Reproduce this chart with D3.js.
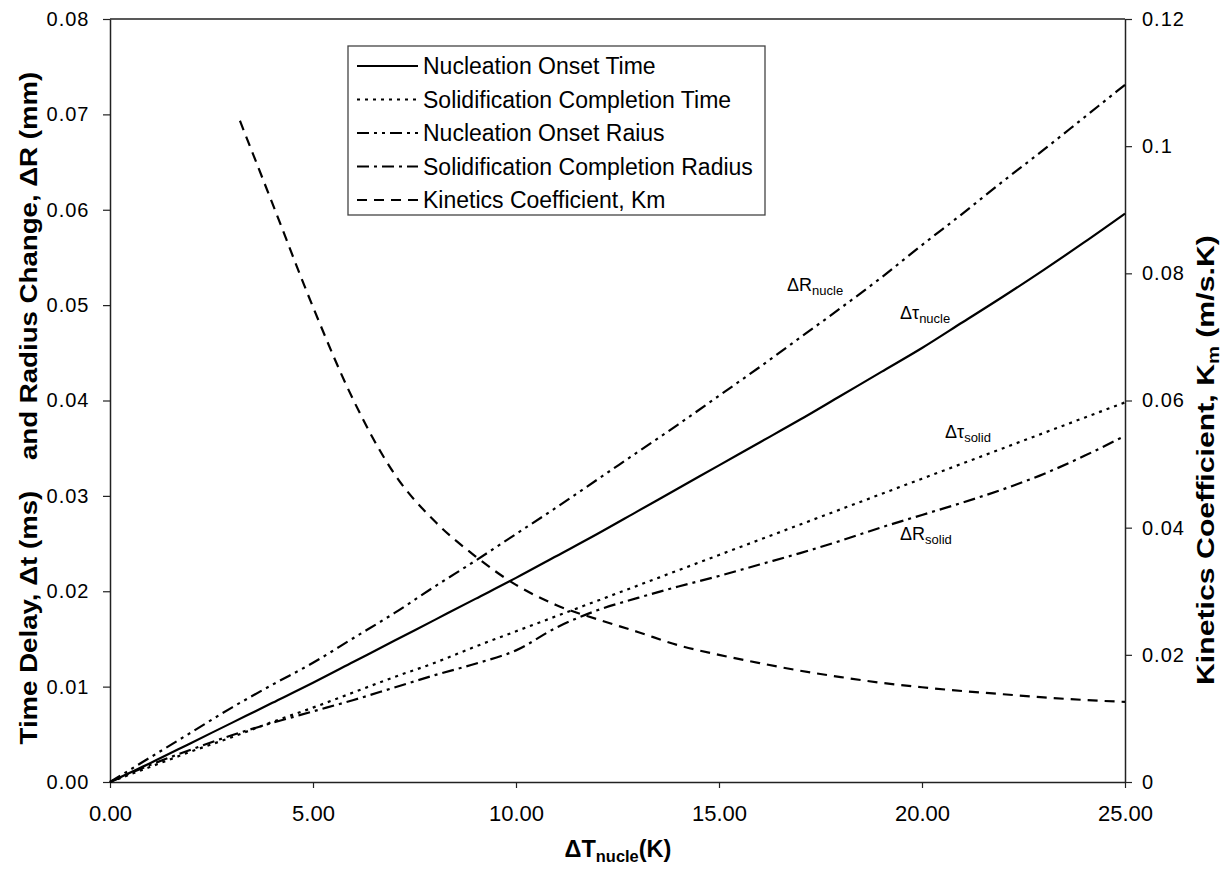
<!DOCTYPE html>
<html><head><meta charset="utf-8">
<script src="https://cdn.jsdelivr.net/npm/d3@7"></script>
<style>
html,body{margin:0;padding:0;background:#fff;}
text{font-family:"Liberation Sans",Arial,Helvetica,sans-serif;fill:#000;}
</style></head>
<body><svg id="chart" width="1223" height="873"></svg>
<script>
// ---- data ----
const dT = [0,1,2,3,4,5,6,7,8,9,10,11,12,13,14,15,16,17,18,19,20,21,22,23,24,25];
const nucleOnsetTime = [0,0.0020,0.0041,0.0062,0.0083,0.0104,0.0126,0.0148,0.0170,0.0192,0.0214,0.0237,0.0260,0.0284,0.0308,0.0332,0.0356,0.0380,0.0405,0.0430,0.0455,0.0482,0.0509,0.0537,0.0566,0.0596];
const solidCompletionTime = [0,0.0016,0.0032,0.0047,0.0063,0.0078,0.0094,0.0110,0.0125,0.0142,0.0158,0.0174,0.0190,0.0206,0.0222,0.0238,0.0254,0.0270,0.0286,0.0302,0.0318,0.0334,0.0350,0.0366,0.0382,0.0398];
const nucleOnsetRadius = [0,0.0026,0.0052,0.0078,0.0102,0.0125,0.0151,0.0177,0.0205,0.0232,0.0260,0.0288,0.0317,0.0346,0.0375,0.0405,0.0435,0.0466,0.0497,0.0529,0.0563,0.0596,0.0630,0.0663,0.0697,0.0731];
const solidCompletionRadius = [0,0.0018,0.0034,0.0049,0.0062,0.0074,0.0086,0.0099,0.0112,0.0124,0.0138,0.0162,0.0180,0.0193,0.0205,0.0216,0.0228,0.0240,0.0253,0.0267,0.0280,0.0293,0.0307,0.0323,0.0342,0.0363];
const kmT = [3.2,4,5,6,7,8,9,10,11,12,13,14,15,16,17,18,19,20,21,22,23,24,25];
const kmValues = [0.104,0.091,0.0747,0.060,0.0485,0.041,0.0355,0.031,0.0278,0.0256,0.0236,0.0215,0.0200,0.0187,0.0175,0.0165,0.0156,0.0149,0.0143,0.0138,0.0133,0.0129,0.0126];
const xTicks = [0,5,10,15,20,25];
const yLeftTicks = [0,0.01,0.02,0.03,0.04,0.05,0.06,0.07,0.08];
const yRightTicks = [0,0.02,0.04,0.06,0.08,0.1,0.12];
const legendLabels = ["Nucleation Onset Time","Solidification Completion Time","Nucleation Onset Raius","Solidification Completion Radius","Kinetics Coefficient, Km"];

// ---- layout ----
const L = 110, R = 1125, T = 19, B = 782;
const svg = d3.select("#chart");
svg.append("rect").attr("width",1223).attr("height",873).attr("fill","#fff");

const x = d3.scaleLinear().domain([0,25]).range([L,R]);
const yL = d3.scaleLinear().domain([0,0.08]).range([B,T]);
const yR = d3.scaleLinear().domain([0,0.12]).range([B,T]);

const axisColor = "#222";
svg.append("line").attr("x1",L).attr("x2",R).attr("y1",T).attr("y2",T).attr("stroke",axisColor).attr("stroke-width",1.5);

const gx = svg.append("g").attr("transform",`translate(0,${B})`)
  .call(d3.axisBottom(x).tickValues(xTicks).tickFormat(d3.format(".2f")).tickSize(6).tickSizeOuter(0));
const gyl = svg.append("g").attr("transform",`translate(${L},0)`)
  .call(d3.axisLeft(yL).tickValues(yLeftTicks).tickFormat(d3.format(".2f")).tickSize(7).tickSizeOuter(0));
const gyr = svg.append("g").attr("transform",`translate(${R},0)`)
  .call(d3.axisRight(yR).tickValues(yRightTicks).tickFormat(d=> d===0?"0":d3.format("~g")(d)).tickSize(7).tickSizeOuter(0));
[gx,gyl,gyr].forEach(g=>{
  g.select(".domain").attr("stroke",axisColor).attr("stroke-width",1.5);
  g.selectAll(".tick line").attr("stroke",axisColor).attr("stroke-width",1.2);
  g.selectAll(".tick text").attr("font-size",20).attr("font-family","Liberation Sans, Arial, sans-serif").attr("fill","#000");
});
gx.selectAll(".tick text").attr("font-size",22).attr("dy","1.35em");
gyl.selectAll(".tick text").attr("x",-42).attr("text-anchor","middle").attr("letter-spacing","1px");
gyr.selectAll(".tick text").attr("x",17).attr("letter-spacing","1px");

// ---- series ----
const styles = [
  {vals:nucleOnsetTime, dash:null},
  {vals:solidCompletionTime, dash:"3,5"},
  {vals:nucleOnsetRadius, dash:"12,5,3,5,3,5"},
  {vals:solidCompletionRadius, dash:"12,5,3,5"},
];
const lineL = d3.line().x(d=>x(d[0])).y(d=>yL(d[1])).curve(d3.curveMonotoneX);
styles.forEach(s=>{
  svg.append("path").datum(dT.map((t,i)=>[t,s.vals[i]]))
    .attr("d",lineL).attr("fill","none").attr("stroke","#000").attr("stroke-width",2.2)
    .attr("stroke-dasharray",s.dash);
});
const lineR = d3.line().x(d=>x(d[0])).y(d=>yR(d[1])).curve(d3.curveMonotoneX);
svg.append("path").datum(kmT.map((t,i)=>[t,kmValues[i]]))
  .attr("d",lineR).attr("fill","none").attr("stroke","#000").attr("stroke-width",2.2)
  .attr("stroke-dasharray","10,7");

// ---- legend ----
const lg = svg.append("g");
lg.append("rect").attr("x",348).attr("y",46).attr("width",417).attr("height",169)
  .attr("fill","#fff").attr("stroke","#444").attr("stroke-width",1.3);
const legDash = [null,"3,5","12,5,3,5,3,5","12,5,3,5","10,7"];
legendLabels.forEach((lab,i)=>{
  const yy = 66 + i*33.5;
  lg.append("line").attr("x1",357).attr("x2",418).attr("y1",yy).attr("y2",yy)
    .attr("stroke","#000").attr("stroke-width",2).attr("stroke-dasharray",legDash[i]);
  lg.append("text").attr("x",423).attr("y",yy+8).attr("font-size",23).text(lab);
});

// ---- curve annotations ----
function ann(xp,yp,main,sub){
  const t = svg.append("text").attr("x",xp).attr("y",yp).attr("font-size",18);
  t.append("tspan").text(main);
  t.append("tspan").attr("font-size",13).attr("dy",4).text(sub);
}
ann(787,291,"ΔR","nucle");
ann(900,319,"Δτ","nucle");
ann(945,438,"Δτ","solid");
ann(900,540,"ΔR","solid");

// ---- axis titles (condensed bold, fitted to the reference lengths) ----
function fitTitle(sel, cx, cy, rot, len){
  const bb = sel.node().getBBox();
  const k = len / bb.width;
  const ox = bb.x + bb.width/2, oy = bb.y + bb.height/2;
  sel.attr("transform",`translate(${cx},${cy}) rotate(${rot}) scale(${k},1) translate(${-ox},${-oy})`);
}
const titleFont = "Liberation Sans Narrow, Arial Narrow, Liberation Sans, sans-serif";

const xt = svg.append("text").attr("x",0).attr("y",0)
  .attr("font-weight","bold").attr("font-size",23).attr("font-family",titleFont);
xt.append("tspan").text("ΔT");
xt.append("tspan").attr("font-size",16).attr("dy",5).text("nucle");
xt.append("tspan").attr("dy",-5).text("(K)");
fitTitle(xt, 618, 850, 0, 107);

const lt = svg.append("text").attr("x",0).attr("y",0)
  .attr("font-weight","bold").attr("font-size",24).style("white-space","pre")
  .attr("font-family",titleFont)
  .text("Time Delay, Δt (ms)    and Radius Change, ΔR (mm)");
fitTitle(lt, 28, 408, -90, 673);

const rt = svg.append("text").attr("x",0).attr("y",0)
  .attr("font-weight","bold").attr("font-size",24).attr("font-family",titleFont);
rt.append("tspan").text("Kinetics Coefficient, K");
rt.append("tspan").attr("font-size",16).attr("dy",5).text("m");
rt.append("tspan").attr("dy",-5).text(" (m/s.K)");
fitTitle(rt, 1207, 460, -90, 450);
</script></body></html>
